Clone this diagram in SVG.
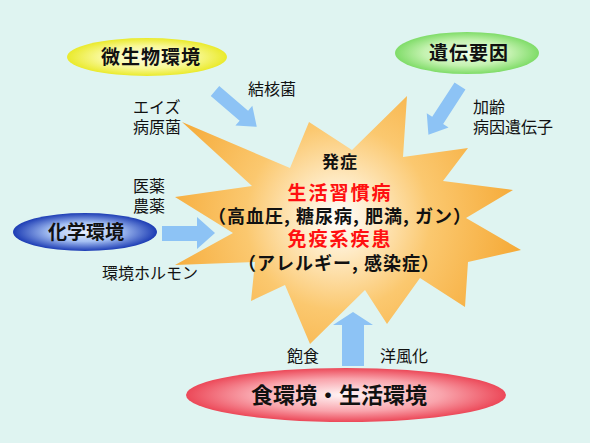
<svg xmlns="http://www.w3.org/2000/svg" width="590" height="443" viewBox="0 0 590 443">
<defs>
<radialGradient id="gStar" gradientUnits="userSpaceOnUse" cx="338" cy="218" r="185">
<stop offset="0" stop-color="#ffffff"/>
<stop offset="0.22" stop-color="#fee8bf"/>
<stop offset="0.5" stop-color="#fbc86f"/>
<stop offset="1" stop-color="#f5a936"/>
</radialGradient>
<radialGradient id="gYellow" cx="0.5" cy="0.5" r="0.5">
<stop offset="0" stop-color="#fdfdea"/>
<stop offset="0.6" stop-color="#f8f894"/>
<stop offset="1" stop-color="#eaea2c"/>
</radialGradient>
<radialGradient id="gGreen" cx="0.5" cy="0.5" r="0.5">
<stop offset="0" stop-color="#f0fdea"/>
<stop offset="0.6" stop-color="#c4f2b0"/>
<stop offset="1" stop-color="#7fdc68"/>
</radialGradient>
<radialGradient id="gBlue" cx="0.5" cy="0.5" r="0.5">
<stop offset="0" stop-color="#eaf0ff"/>
<stop offset="0.5" stop-color="#a4bff2"/>
<stop offset="1" stop-color="#1c3cb4"/>
</radialGradient>
<radialGradient id="gRed" cx="0.5" cy="0.5" r="0.5">
<stop offset="0" stop-color="#fff6f6"/>
<stop offset="0.6" stop-color="#f9a4ac"/>
<stop offset="1" stop-color="#ec4858"/>
</radialGradient>
<style>
.lbl{font-family:"Noto Sans CJK JP","Liberation Sans",sans-serif;font-size:16px;fill:#111}
.ttl{font-family:"Noto Sans CJK JP","Liberation Sans",sans-serif;font-weight:bold;fill:#111;text-anchor:middle}
.ctr{font-family:"Noto Sans CJK JP","Liberation Sans",sans-serif;font-weight:bold;text-anchor:middle;font-size:18px}
.red{fill:#ff1010;letter-spacing:2px}
.blk{fill:#111;letter-spacing:1px}
.arrow{fill:#8dc3f5}
</style>
</defs>
<rect width="590" height="443" fill="#dff4f1"/>

<g id="star">
<polygon fill="url(#gStar)" points="182,122 290,168 309,122 352,150 407,96 403,157 468,148 443,181 513,190 466,218 521,250 468,262 465,307 420,278 387,324 365,290 310,344 285,285 251,301 255,262 175,265 233,233 175,197 252,186"/>
<text class="ctr"><tspan class="blk" x="340" y="168" font-size="17">発症</tspan><tspan class="red" x="340" y="200" font-size="19">生活習慣病</tspan><tspan class="blk" x="340" y="223">（高血圧, 糖尿病, 肥満, ガン）</tspan><tspan class="red" x="340" y="246" font-size="19">免疫系疾患</tspan><tspan class="blk" x="339" y="270">（アレルギー, 感染症）</tspan></text>
</g>

<g id="microbe">
<ellipse cx="147" cy="57" rx="80" ry="19" fill="url(#gYellow)"/>
<text class="ttl" x="151" y="64" font-size="19" letter-spacing="1">微生物環境</text>
</g>

<g id="genetic">
<ellipse cx="467" cy="53" rx="72" ry="21" fill="url(#gGreen)"/>
<text class="ttl" x="469" y="60" font-size="19" letter-spacing="1">遺伝要因</text>
</g>

<g id="chemical">
<ellipse cx="85" cy="232" rx="72" ry="19" fill="url(#gBlue)"/>
<text class="ttl" x="86" y="239" font-size="19">化学環境</text>
</g>

<g id="food">
<ellipse cx="346" cy="395" rx="160" ry="27" fill="url(#gRed)"/>
<text class="ttl" x="339" y="403" font-size="22">食環境・生活環境</text>
</g>

<g id="labels">
<text class="lbl" x="248" y="95">結核菌</text>
<text class="lbl"><tspan x="133" y="113">エイズ</tspan><tspan x="133" y="133">病原菌</tspan></text>
<text class="lbl"><tspan x="473" y="113">加齢</tspan><tspan x="473" y="133">病因遺伝子</tspan></text>
<text class="lbl"><tspan x="133" y="192">医薬</tspan><tspan x="133" y="212">農薬</tspan></text>
<text class="lbl" x="102" y="279">環境ホルモン</text>
<text class="lbl" x="287" y="362">飽食</text>
<text class="lbl" x="380" y="362">洋風化</text>
</g>

<g id="connectors">
<polygon class="arrow" points="0,-6.5 38,-6.5 38,-13 55,0 38,13 38,6.5 0,6.5" transform="translate(215,91) rotate(40.6)"/>
<polygon class="arrow" points="0,-6.5 41,-6.5 41,-13 58,0 41,13 41,6.5 0,6.5" transform="translate(460,86) rotate(123)"/>
<polygon class="arrow" points="162,226 197,226 197,217 215,233 197,249 197,241 162,241"/>
<polygon class="arrow" points="342,366 342,325 333,325 353,312 373,325 364,325 364,366"/>
</g>
</svg>
